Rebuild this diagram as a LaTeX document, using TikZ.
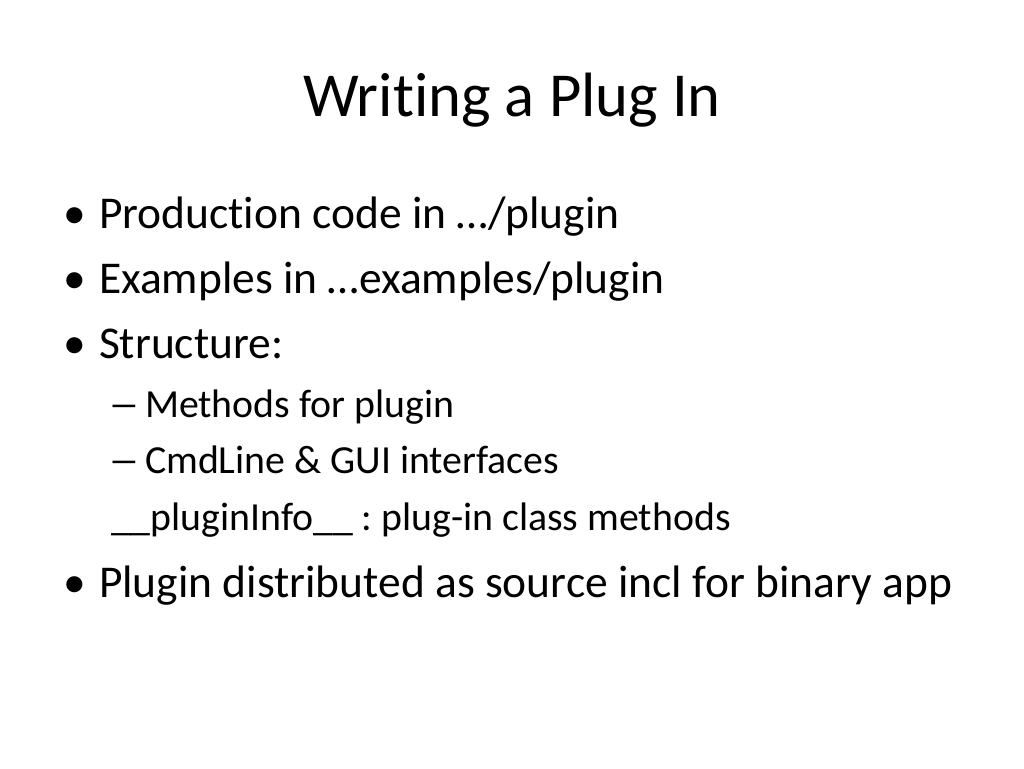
\documentclass[tikz,border=0pt]{standalone}
\usepackage{graphicx}
\usepackage{fontspec}
\setmainfont[Ligatures={NoCommon,NoContextual}]{Carlito}
\frenchspacing
\begin{document}
\begin{tikzpicture}[x=1pt,y=-1pt,
  every node/.style={inner sep=0pt,outer sep=0pt,text=black},
  ttl/.style={anchor=base,font=\fontsize{62.6}{70}\selectfont},
  lvA/.style={anchor=base west,font=\fontsize{45.5}{52}\selectfont},
  lvB/.style={anchor=base west,font=\fontsize{39.8}{46}\selectfont}]
\useasboundingbox[fill=white] (0,0) rectangle (1024,768);
\node[ttl] (title) at (512,116) {Writing a Plug In};
\node[lvA] (d1) at (63,228) {•};
\node[lvA] (b1) at (99,228) {Production code in …/plugin};
\node[lvA] (d2) at (63,293) {•};
\node[lvA] (b2) at (99,293) {Examples in …examples/plugin};
\node[lvA] (d3) at (63,358) {•};
\node[lvA] (b3) at (99,358) {Structure:};
\node[lvB] (e1) at (108,417) {\scalebox{1.6}[1]{–}};
\node[lvB] (s1) at (145,417) {Methods for plugin};
\node[lvB] (e2) at (108,473) {\scalebox{1.6}[1]{–}};
\node[lvB] (s2) at (145,473) {CmdLine \& GUI interfaces};
\node[lvB] (s3) at (111,530) {\_\_pluginInfo\_\_ : plug-in class methods};
\node[lvA] (d4) at (63,597) {•};
\node[lvA] (b4) at (99,597) {Plugin distributed as source incl for binary app};
\end{tikzpicture}
\end{document}
